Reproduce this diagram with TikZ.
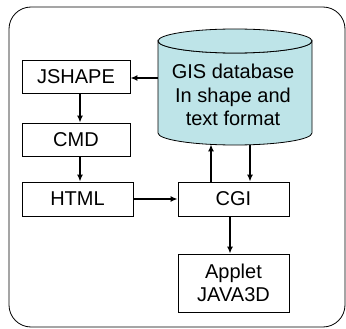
\documentclass[tikz,border=0pt]{standalone}
\usepackage{fontspec}
\setmainfont{Liberation Sans}
\usetikzlibrary{arrows.meta,calc}
\definecolor{dbfill}{RGB}{190,228,232}
\begin{document}
\begin{tikzpicture}[x=1pt,y=-1pt,
  box/.style={draw=black,line width=0.8pt,fill=white,inner sep=0pt,font=\fontsize{20}{23.5}\selectfont,align=center},
  conn/.style={line width=1.4pt,-{Latex[length=7pt,width=6pt]}}]
\useasboundingbox (0,0) rectangle (346,329);
% outer frame
\draw[line width=0.8pt,rounded corners=22pt] (9,7) rectangle (345,327);
% cylinder
\fill[dbfill,draw=black,line width=0.8pt] (158,41) -- (158,133) arc[start angle=180,end angle=360,x radius=77,y radius=-12] -- (312,41) arc[start angle=0,end angle=180,x radius=77,y radius=12] -- cycle;
\draw[fill=dbfill,line width=0.8pt] (235,41) ellipse[x radius=77,y radius=12];
\node[inner sep=0pt,minimum width=154pt,minimum height=116pt] (gis) at (235,87) {};
\node[align=center,font=\fontsize{20}{23.5}\selectfont] (gistext) at (233,95) {GIS database\\In shape and\\text format};
\coordinate (gisup) at (211,144.4);
\coordinate (gisdown) at (250,144.8);
% boxes
\node[box,minimum width=108pt,minimum height=33pt] (jshape) at (76,76.5) {JSHAPE};
\node[box,minimum width=108pt,minimum height=33pt] (cmd) at (76,139.5) {CMD};
\node[box,minimum width=111pt,minimum height=34pt] (html) at (77.5,199) {HTML};
\node[box,minimum width=111pt,minimum height=34pt] (cgi) at (233.5,199) {CGI};
\node[box,minimum width=111pt,minimum height=58pt] (applet) at (233.5,283) {Applet\\JAVA3D};
% connectors
\draw[conn] (gis.west |- 0,78) -- (jshape.east |- 0,78);
\draw[conn] (jshape.south -| 80,0) -- (cmd.north -| 80,0);
\draw[conn] (cmd.south -| 80,0) -- (html.north -| 80,0);
\draw[conn] (html.east) -- (cgi.west);
\draw[conn] (cgi.north -| gisup) -- (gisup);
\draw[conn] (gisdown) -- (cgi.north -| gisdown);
\draw[conn] (cgi.south -| 230,0) -- (applet.north -| 230,0);
\end{tikzpicture}
\end{document}
